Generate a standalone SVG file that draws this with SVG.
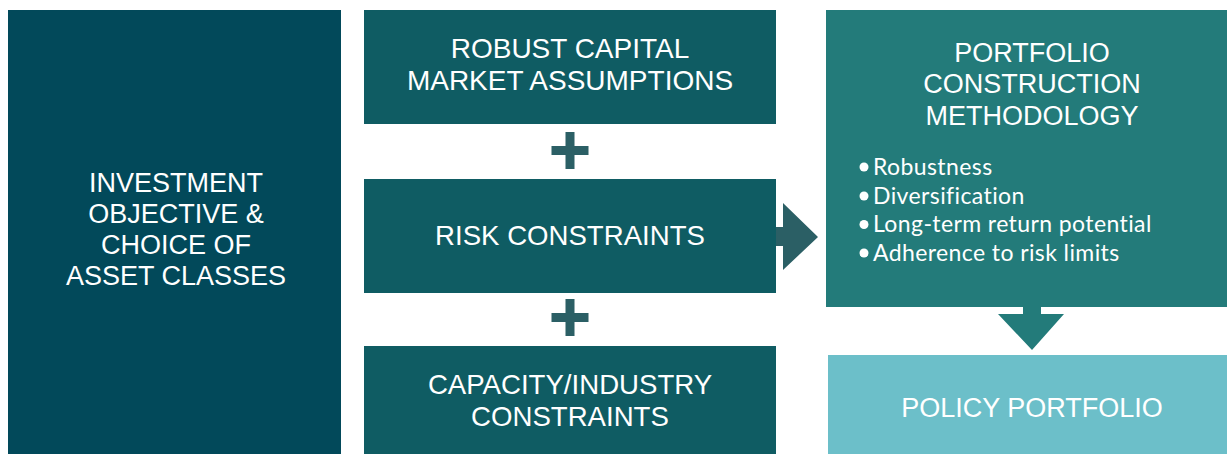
<svg xmlns="http://www.w3.org/2000/svg" width="1227" height="454" viewBox="0 0 1227 454">
  <style>
    .title { font-family: "Liberation Sans", Arial, sans-serif; font-size: 27px; fill: #ffffff; text-anchor: middle; }
    .mid { font-size: 27.6px; }
    .big { font-size: 28px; }
    .bullet { font-family: Lato, "Open Sans", sans-serif; font-size: 23px; letter-spacing: 0.4px; fill: #ffffff; }
    .dot { fill: #ffffff; }
    .mark { fill: #2b5f65; }
  </style>
  <rect width="1227" height="454" fill="#ffffff"/>

  <g id="objective">
    <rect x="8" y="10" width="333" height="444" fill="#02495a"/>
    <text class="title" x="176" y="191.5">INVESTMENT</text>
    <text class="title" x="176" y="222.5">OBJECTIVE &amp;</text>
    <text class="title" x="176" y="253.5">CHOICE OF</text>
    <text class="title" x="176" y="284.5">ASSET CLASSES</text>
  </g>

  <g id="market-assumptions">
    <rect x="364" y="10" width="412" height="114" fill="#0f5c63"/>
    <text class="title big" x="570" y="58">ROBUST CAPITAL</text>
    <text class="title big" x="570" y="90">MARKET ASSUMPTIONS</text>
  </g>

  <g id="risk-constraints">
    <rect x="364" y="179" width="412" height="114" fill="#0f5c63"/>
    <text class="title mid" x="570" y="245">RISK CONSTRAINTS</text>
  </g>

  <g id="capacity-constraints">
    <rect x="364" y="346" width="412" height="108" fill="#0f5c63"/>
    <text class="title mid" x="570" y="393.5">CAPACITY/INDUSTRY</text>
    <text class="title mid" x="570" y="425.5">CONSTRAINTS</text>
  </g>

  <g id="methodology">
    <rect x="826" y="10" width="401" height="297" fill="#237b7a"/>
    <text class="title" x="1032" y="61.5">PORTFOLIO</text>
    <text class="title" x="1032" y="93">CONSTRUCTION</text>
    <text class="title" x="1032" y="124.5">METHODOLOGY</text>
    <circle class="dot" cx="864" cy="167" r="4.5"/>
    <circle class="dot" cx="864" cy="196" r="4.5"/>
    <circle class="dot" cx="864" cy="224.5" r="4.5"/>
    <circle class="dot" cx="864" cy="253" r="4.5"/>
    <text class="bullet" x="873" y="175">Robustness</text>
    <text class="bullet" x="873" y="203.5">Diversification</text>
    <text class="bullet" x="873" y="232">Long-term return potential</text>
    <text class="bullet" x="873" y="260.5">Adherence to risk limits</text>
  </g>

  <g id="policy-portfolio">
    <rect x="828" y="355" width="399" height="99" fill="#6cbfc9"/>
    <text class="title" x="1032" y="416.5">POLICY PORTFOLIO</text>
  </g>

  <g id="connectors">
    <!-- plus signs between the middle boxes -->
    <path class="mark" d="M565.5 132h9v14h14v9h-14v14h-9v-14h-14v-9h14z"/>
    <path class="mark" d="M565.5 299h9v14h14v9h-14v14h-9v-14h-14v-9h14z"/>
    <!-- arrow into the methodology box -->
    <path class="mark" d="M776 227h7v-24l35 34l-35 33v-24h-7z"/>
    <!-- arrow down to the policy portfolio -->
    <path fill="#237b7a" d="M1023 307h18v7h23l-32 36l-34 -36h25z"/>
  </g>
</svg>
